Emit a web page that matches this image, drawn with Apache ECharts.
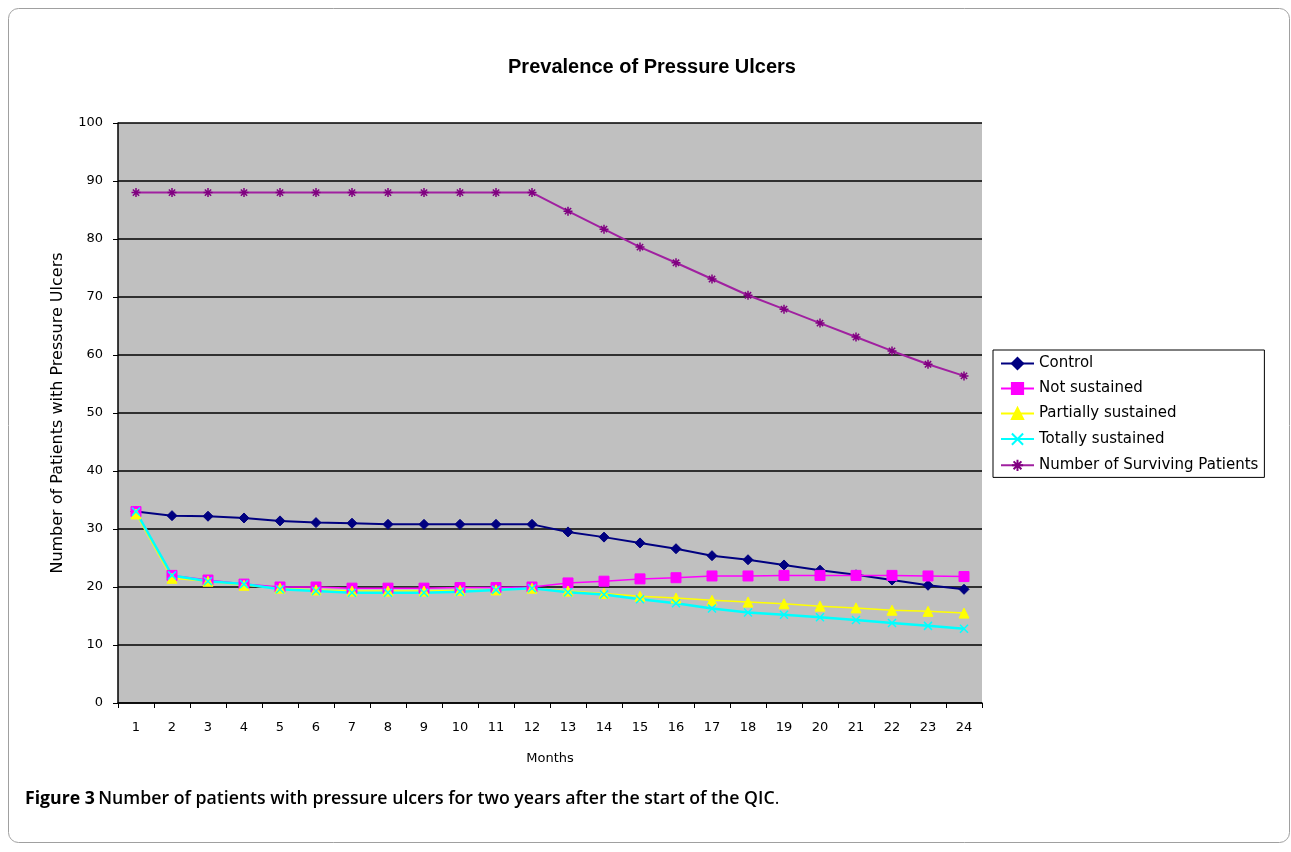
<!DOCTYPE html>
<html><head><meta charset="utf-8">
<script src="https://cdn.jsdelivr.net/npm/echarts@6/dist/echarts.min.js"></script>
<style>html,body{margin:0;padding:0;background:#fff}#c{width:1291px;height:852px}</style>
</head><body><div id="c"></div>
<script>
const months = ['1','2','3','4','5','6','7','8','9','10','11','12','13','14','15','16','17','18','19','20','21','22','23','24'];
const control = [33,32.3,32.2,31.9,31.4,31.1,31,30.8,30.8,30.8,30.8,30.8,29.5,28.6,27.6,26.6,25.4,24.7,23.8,22.9,22.1,21.2,20.3,19.6];
const notSustained = [33,22,21.2,20.5,20,20,19.8,19.8,19.8,19.9,19.9,20,20.7,21,21.4,21.6,21.9,21.9,22,22,22,22,21.9,21.8];
const partially = [32.6,21.5,21,20.3,19.8,19.5,19.3,19.3,19.3,19.4,19.5,19.8,19.3,18.9,18.4,18.1,17.7,17.4,17.1,16.7,16.4,16,15.8,15.5];
const totally = [33,22,21,20.5,19.6,19.3,19,19,19,19.2,19.5,19.8,19.1,18.7,17.9,17.2,16.3,15.6,15.2,14.8,14.3,13.8,13.3,12.8];
const surviving = [88,88,88,88,88,88,88,88,88,88,88,88,84.8,81.7,78.6,75.9,73.1,70.3,67.9,65.5,63.1,60.7,58.4,56.4];
const yTicks = [0,10,20,30,40,50,60,70,80,90,100];

const chart = echarts.init(document.getElementById('c'));
const XSYM = 'path://M0,0L10,10M10,0L0,10';
const STAR = 'path://M0,5L10,5M5,0L5,10M1.5,1.5L8.5,8.5M8.5,1.5L1.5,8.5';
const font = 'DejaVu Sans, Verdana, sans-serif';
function ser(name, data, color, symbol, size, lw, lineColor, extra) {
  return Object.assign({
    name, type: 'line', data, symbol, symbolSize: size,
    lineStyle: {color: lineColor || color, width: lw},
    itemStyle: {color: color, borderColor: color, borderWidth: 1},
    emphasis: {disabled: true}, animation: false
  }, extra || {});
}
chart.setOption({
  animation: false,
  title: {text: 'Prevalence of Pressure Ulcers', left: 647, textAlign: 'center', top: 52,
    textStyle: {fontFamily: 'Liberation Sans, Arial, sans-serif', fontSize: 20, fontWeight: 'bold', color: '#000'}},
  grid: {left: 118, right: 309, top: 123, bottom: 149, show: true, backgroundColor: '#c0c0c0', borderWidth: 0},
  legend: {
    orient: 'vertical', left: 993, top: 350, itemGap: 10, itemWidth: 33, itemHeight: 14,
    backgroundColor: '#fff', borderColor: '#000', borderWidth: 1, padding: [6, 6, 4, 7],
    textStyle: {fontFamily: font, fontSize: 15, color: '#000'},
    data: ['Control','Not sustained','Partially sustained','Totally sustained','Number of Surviving Patients']
  },
  xAxis: {
    type: 'category', data: months, boundaryGap: true, name: 'Months', nameLocation: 'middle', nameGap: 49,
    nameTextStyle: {fontFamily: font, fontSize: 13, color: '#000'},
    axisLine: {lineStyle: {color: '#000', width: 1.5}},
    axisTick: {show: true, alignWithLabel: false, length: 5, lineStyle: {color: '#000'}},
    axisLabel: {fontFamily: font, fontSize: 13, color: '#000', margin: 18},
    splitLine: {show: false}
  },
  yAxis: {
    type: 'value', min: 0, max: 100, interval: 10,
    name: 'Number of Patients with Pressure Ulcers', nameLocation: 'middle', nameGap: 52,
    nameTextStyle: {fontFamily: font, fontSize: 16, color: '#000'},
    axisLine: {show: true, lineStyle: {color: '#000', width: 1.5}},
    axisTick: {show: true, length: 5, lineStyle: {color: '#000'}},
    axisLabel: {fontFamily: font, fontSize: 13, color: '#000', margin: 15,
      formatter: v => yTicks.includes(v) ? String(v) : ''},
    splitLine: {show: true, lineStyle: {color: '#000', width: 1.5}}
  },
  series: [
    ser('Control', control, '#000080', 'diamond', 10, 2),
    ser('Not sustained', notSustained, '#ff00ff', 'rect', 10, 1.5),
    ser('Partially sustained', partially, '#ffff00', 'triangle', 10, 1.5),
    ser('Totally sustained', totally, '#00ffff', XSYM, 8, 2.5, null, {itemStyle: {color: 'none', borderColor: '#00ffff', borderWidth: 1.5}}),
    ser('Number of Surviving Patients', surviving, '#800080', STAR, 9, 2, '#a020a0', {itemStyle: {color: 'none', borderColor: '#800080', borderWidth: 1.5}})
  ],
  graphic: [
    {type: 'rect', shape: {x: 8.5, y: 8.5, width: 1281, height: 834, r: 10}, style: {fill: 'none', stroke: '#a0a0a0', lineWidth: 1}, z: -1},
    {type: 'text', left: 25, top: 790, style: {
      text: '{b|Figure 3} {s|Number of patients with pressure ulcers for two years after the start of the QIC}{n|.}',
      rich: {
        b: {fontFamily: 'Open Sans', fontSize: 17.7, fontWeight: 'bold', fill: '#000'},
        s: {fontFamily: 'Open Sans', fontSize: 17.7, fontWeight: 600, fill: '#000'},
        n: {fontFamily: 'Open Sans', fontSize: 17.7, fontWeight: 'normal', fill: '#000'}
      }}}
  ]
});
</script></body></html>
